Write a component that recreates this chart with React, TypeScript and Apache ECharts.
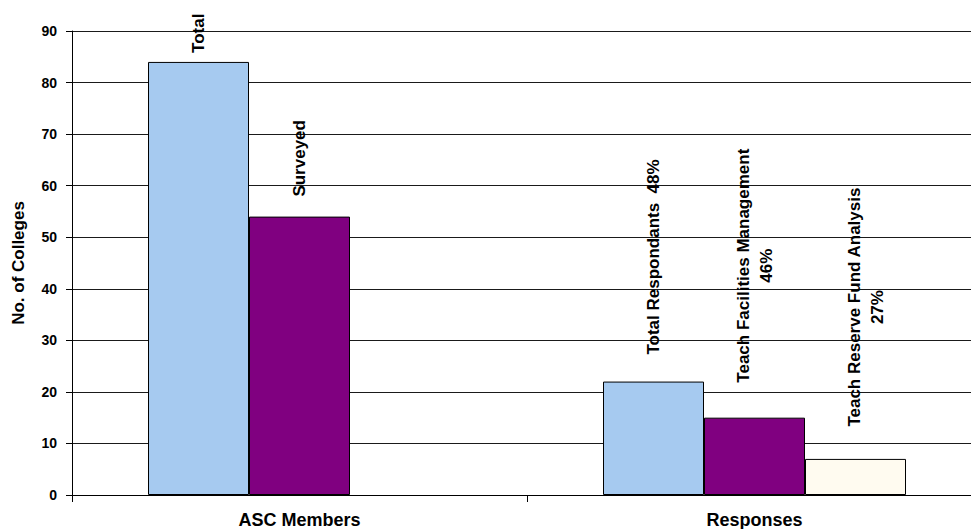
import React, { useEffect, useRef } from "react";
import * as echarts from "echarts";

const categories = ["ASC Members", "Responses"];
const totalValues = [84, 22];
const surveyedValues = [54, 15];
const reserveValues: (number | null)[] = [null, 7];
const totalLabels = ["Total", "Total Respondants  48%"];
const surveyedLabels = ["Surveyed", "Teach Facilities Management\n46%"];
const reserveLabels = ["", "Teach Reserve Fund Analysis\n27%"];
const yTicks = { min: 0, max: 90, interval: 10 };
const yAxisTitle = "No. of Colleges";

// label gaps / shifts (styling only)
const totalGaps = [9, 27];
const surveyedGaps = [20, 35];
const reserveGaps = [0, 32];
const reserveShift = [0, 10];

const FONT = '"Liberation Sans", Arial, sans-serif';

function makeSeries(
  name: string,
  values: (number | null)[],
  labels: string[],
  gaps: number[],
  color: string,
  shift: number[] = [0, 0]
) {
  return {
    name,
    type: "bar",
    barWidth: 101,
    barGap: "0%",
    data: values.map((v, i) => ({
      value: v == null ? "-" : v,
      label: { distance: gaps[i] },
    })),
    itemStyle: { color, borderColor: "#000", borderWidth: 1 },
    label: {
      show: true,
      position: "top",
      rotate: 90,
      align: "left",
      verticalAlign: "middle",
      offset: shift,
      color: "#000",
      fontFamily: FONT,
      fontWeight: "bold",
      fontSize: 17,
      lineHeight: 23,
      formatter: (p: any) =>
        labels[p.dataIndex]
          .split("\n")
          .map((l) => `{l|${l}}`)
          .join("\n"),
      rich: {
        l: {
          align: "center",
          color: "#000",
          fontFamily: FONT,
          fontWeight: "bold",
          fontSize: 17,
          lineHeight: 23,
        },
      },
    },
  };
}

export default function App() {
  const ref = useRef<HTMLDivElement>(null);
  useEffect(() => {
    if (!ref.current) return;
    const chart = echarts.init(ref.current, undefined, { renderer: "svg" });
    chart.setOption({
      animation: false,
      backgroundColor: "#fff",
      grid: {
        left: 72,
        right: -11,
        top: 31,
        bottom: 34,
        containLabel: false,
        outerBoundsMode: "none",
      },
      xAxis: {
        type: "category",
        data: categories,
        boundaryGap: true,
        axisLine: { lineStyle: { color: "#000", width: 1 } },
        axisTick: { show: true, length: 7, lineStyle: { color: "#000" } },
        axisLabel: {
          color: "#000",
          fontFamily: FONT,
          fontWeight: "bold",
          fontSize: 18,
          margin: 16,
          interval: 0,
        },
      },
      yAxis: {
        type: "value",
        min: yTicks.min,
        max: yTicks.max,
        interval: yTicks.interval,
        name: yAxisTitle,
        nameLocation: "middle",
        nameRotate: 90,
        nameGap: 45,
        nameTextStyle: {
          color: "#000",
          fontFamily: FONT,
          fontWeight: "bold",
          fontSize: 17,
        },
        axisLine: { show: true, lineStyle: { color: "#000", width: 1 } },
        axisTick: { show: true, length: 6, lineStyle: { color: "#000" } },
        axisLabel: {
          color: "#000",
          fontFamily: FONT,
          fontWeight: "bold",
          fontSize: 14,
          margin: 15,
        },
        splitLine: { show: true, lineStyle: { color: "#1a1a1a", width: 1 } },
      },
      series: [
        makeSeries("Total", totalValues, totalLabels, totalGaps, "#A6CAF0"),
        makeSeries("Surveyed", surveyedValues, surveyedLabels, surveyedGaps, "#800080"),
        makeSeries("Reserve", reserveValues, reserveLabels, reserveGaps, "#FFFBF0", reserveShift),
      ],
    });
    return () => chart.dispose();
  }, []);
  return (
    <div
      ref={ref}
      style={{ position: "fixed", left: 0, top: 0, width: 971, height: 529, background: "#fff" }}
    />
  );
}
